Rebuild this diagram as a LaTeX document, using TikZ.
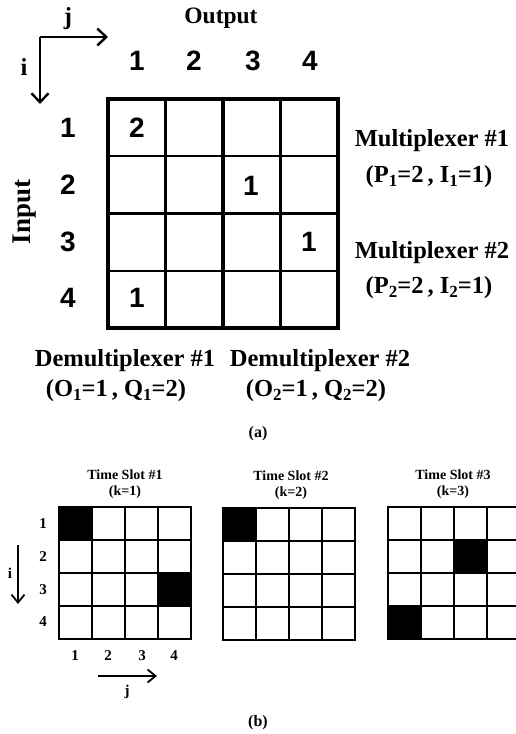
\documentclass[tikz,border=0pt]{standalone}
\usepackage{fontspec}
\setmainfont{Liberation Serif}
\newfontfamily\digitfont{Liberation Sans}
\usetikzlibrary{arrows.meta}
\newcommand\sbs[1]{\raisebox{-0.35ex}{\fontsize{17}{17}\selectfont #1}}
\newcommand\slotgrid[3]{% x, y, name
  \draw[line width=1.8] (#1+33,#2) -- (#1+33,#2+132)
    (#1+66,#2) -- (#1+66,#2+132) (#1+99,#2) -- (#1+99,#2+132)
    (#1,#2+33) -- (#1+132,#2+33) (#1,#2+66) -- (#1+132,#2+66)
    (#1,#2+99) -- (#1+132,#2+99);
  \draw[line width=2.4] (#1,#2) rectangle (#1+132,#2+132);
  \coordinate (#3) at (#1,#2);
}
\begin{document}
\begin{tikzpicture}[x=1pt,y=-1pt,
  bigdigit/.style={font=\digitfont\bfseries\fontsize{28}{28}\selectfont, inner sep=0pt},
  biglabel/.style={font=\bfseries\fontsize{24.5}{24.5}\selectfont, inner sep=0pt},
  smalllabel/.style={font=\bfseries\fontsize{14}{14}\selectfont, inner sep=0pt},
  smalldigit/.style={font=\bfseries\fontsize{15}{15}\selectfont, inner sep=0pt},
  caption/.style={font=\bfseries\fontsize{16}{16}\selectfont, inner sep=0pt},
  bigarrow/.style={line width=2.4, -{Straight Barb[length=9pt,width=17pt,line width=2.4]}},
  smallarrow/.style={line width=1.8, -{Straight Barb[length=8pt,width=13pt,line width=1.8]}},
  blk/.style={fill=black}]
\useasboundingbox (0,0) rectangle (516,734);
\fill[white] (0,0) rectangle (516,734);

% ---------- (a) ----------
% axes
\coordinate (corner) at (40,37);
\coordinate (jend) at (108,37);
\coordinate (iend) at (40,104);
\draw[bigarrow] (corner) -- (jend);
\draw[bigarrow] (corner) -- (iend);
\node[biglabel] (jlab) at (68,19) {j};
\node[biglabel] (ilab) at (24,67) {i};
\node[biglabel, font=\bfseries\fontsize{23.5}{23.5}\selectfont] (output) at (221,18) {Output};
\node[biglabel, font=\bfseries\fontsize{27}{27}\selectfont, rotate=90] (input) at (25,212) {Input};

% grid
\draw[line width=2.2] (165.5,99) -- (165.5,328) (280.5,99) -- (280.5,328)
  (108,156.25) -- (338,156.25) (108,270.75) -- (338,270.75);
\draw[line width=3.6] (223,99) -- (223,328) (108,213.5) -- (338,213.5);
\draw[line width=4] (108,99) rectangle (338,328);

% column / row labels
\foreach \c/\x in {1/137,2/194,3/253,4/310}
  \node[bigdigit] (col\c) at (\x,61) {\c};
\foreach \r/\y in {1/128,2/185,3/242,4/298}
  \node[bigdigit] (row\r) at (68,\y) {\r};

% cell values
\node[bigdigit] (v11) at (137,128) {2};
\node[bigdigit] (v23) at (251,186) {1};
\node[bigdigit] (v34) at (309,242) {1};
\node[bigdigit] (v41) at (137,298) {1};

% multiplexer labels
\node[biglabel] (mux1) at (432,141) {Multiplexer \#1};
\node[biglabel] (mux1p) at (429,177) {(P\sbs{1}=2\,, I\sbs{1}=1)};
\node[biglabel] (mux2) at (432,253) {Multiplexer \#2};
\node[biglabel] (mux2p) at (429,288) {(P\sbs{2}=2\,, I\sbs{2}=1)};

% demultiplexer labels
\node[biglabel] (dmx1) at (125,361) {Demultiplexer \#1};
\node[biglabel] (dmx1p) at (116,391) {(O\sbs{1}=1\,, Q\sbs{1}=2)};
\node[biglabel] (dmx2) at (320,361) {Demultiplexer \#2};
\node[biglabel] (dmx2p) at (316,391) {(O\sbs{2}=1\,, Q\sbs{2}=2)};

\node[caption] (capa) at (258,434) {(a)};

% ---------- (b) ----------
\begin{scope}
\clip (0,0) rectangle (516,734);
% black cells
\fill[blk] (59,507) rectangle ++(33,33);
\fill[blk] (158,573) rectangle ++(33,33);
\fill[blk] (223,508) rectangle ++(33,33);
\fill[blk] (454,540) rectangle ++(33,33);
\fill[blk] (388,606) rectangle ++(33,33);
\slotgrid{59}{507}{g1}
\slotgrid{223}{508}{g2}
\slotgrid{388}{507}{g3}
\end{scope}

\node[smalllabel] (t1) at (125,475) {Time Slot \#1};
\node[smalllabel] (k1) at (125,492) {(k=1)};
\node[smalllabel] (t2) at (291,476) {Time Slot \#2};
\node[smalllabel] (k2) at (291,493) {(k=2)};
\node[smalllabel] (t3) at (453,475) {Time Slot \#3};
\node[smalllabel] (k3) at (453,492) {(k=3)};

\foreach \r/\y in {1/524,2/557,3/590,4/622}
  \node[smalldigit] (srow\r) at (43,\y) {\r};
\foreach \c/\x in {1/75,2/108,3/142,4/174}
  \node[smalldigit] (scol\c) at (\x,656) {\c};

\coordinate (sitop) at (18,545);
\coordinate (sibot) at (18,604);
\draw[smallarrow] (sitop) -- (sibot);
\node[smalldigit] (si) at (10,573) {i};
\coordinate (sjl) at (98,676);
\coordinate (sjr) at (157,676);
\draw[smallarrow] (sjl) -- (sjr);
\node[smalldigit] (sj) at (127,692) {j};

\node[caption] (capb) at (258,723) {(b)};
\end{tikzpicture}
\end{document}
